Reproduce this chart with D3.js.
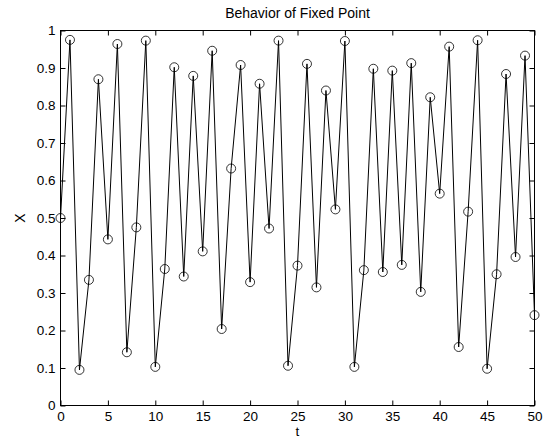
<!DOCTYPE html>
<meta charset="utf-8">
<html>
<head>
<script src="https://cdn.jsdelivr.net/npm/d3@7"></script>
<style>
body { margin: 0; background: white; }
text { font-family: "Liberation Sans", Arial, sans-serif; fill: black; }
</style>
</head>
<body>
<script>

// t = 0..50, x values
var tValues = d3.range(0, 51);
var xValues = [
  0.500, 0.975, 0.095, 0.335, 0.870, 0.443, 0.964, 0.142, 0.475, 0.973,
  0.103, 0.364, 0.902, 0.344, 0.879, 0.411, 0.946, 0.204, 0.632, 0.908,
  0.329, 0.858, 0.472, 0.973, 0.106, 0.373, 0.911, 0.315, 0.840, 0.523,
  0.972, 0.103, 0.361, 0.898, 0.356, 0.893, 0.375, 0.913, 0.303, 0.822,
  0.565, 0.957, 0.156, 0.517, 0.974, 0.098, 0.350, 0.884, 0.396, 0.933,
  0.241
];
var xTicks = [0, 5, 10, 15, 20, 25, 30, 35, 40, 45, 50];
var yTicks = [0, 0.1, 0.2, 0.3, 0.4, 0.5, 0.6, 0.7, 0.8, 0.9, 1];

var width = 546, height = 443;
// plot box edges (don't name these "top" -- clashes with window.top)
var pLeft = 60.5, pRight = 534.5, pTop = 30.5, pBottom = 405.5;

var svg = d3.select("body").append("svg")
  .attr("width", width)
  .attr("height", height);

var x = d3.scaleLinear().domain([0, 50]).range([pLeft, pRight]);
var y = d3.scaleLinear().domain([0, 1]).range([pBottom, pTop]);

// axes, ticks pointing inward on all four sides
function styleAxis(g) {
  g.select(".domain").remove();
  g.selectAll("line").attr("stroke", "black");
  g.selectAll("text").style("font-size", "13.5px");
}

svg.append("g")
  .attr("transform", "translate(0," + pBottom + ")")
  .call(d3.axisBottom(x).tickValues(xTicks).tickSizeInner(-5).tickSizeOuter(0).tickPadding(5.5).tickFormat(d3.format("d")))
  .call(styleAxis);

svg.append("g")
  .attr("transform", "translate(0," + pTop + ")")
  .call(d3.axisTop(x).tickValues(xTicks).tickSizeInner(-5).tickSizeOuter(0).tickFormat(""))
  .call(styleAxis);

svg.append("g")
  .attr("transform", "translate(" + pLeft + ",0)")
  .call(d3.axisLeft(y).tickValues(yTicks).tickSizeInner(-5).tickSizeOuter(0).tickPadding(5).tickFormat(function(d){ return d3.format("~g")(d); }))
  .call(styleAxis);

svg.append("g")
  .attr("transform", "translate(" + pRight + ",0)")
  .call(d3.axisRight(y).tickValues(yTicks).tickSizeInner(-5).tickSizeOuter(0).tickFormat(""))
  .call(styleAxis);

// box
svg.append("rect")
  .attr("x", pLeft).attr("y", pTop)
  .attr("width", pRight - pLeft).attr("height", pBottom - pTop)
  .attr("fill", "none").attr("stroke", "black").attr("stroke-width", 1);

// series
var pts = tValues.map(function(t, i){ return [t, xValues[i]]; });

svg.append("path")
  .datum(pts)
  .attr("fill", "none")
  .attr("stroke", "black")
  .attr("stroke-width", 1)
  .attr("d", d3.line().x(function(d){ return x(d[0]); }).y(function(d){ return y(d[1]); }));

svg.selectAll("circle.pt")
  .data(pts)
  .enter().append("circle")
  .attr("class", "pt")
  .attr("cx", function(d){ return x(d[0]); })
  .attr("cy", function(d){ return y(d[1]); })
  .attr("r", 4.5)
  .attr("fill", "none")
  .attr("stroke", "black")
  .attr("stroke-width", 0.8);

// labels
svg.append("text")
  .attr("x", (pLeft + pRight) / 2).attr("y", 18)
  .attr("text-anchor", "middle")
  .style("font-size", "14px")
  .text("Behavior of Fixed Point");

svg.append("text")
  .attr("x", (pLeft + pRight) / 2).attr("y", 436)
  .attr("text-anchor", "middle")
  .style("font-size", "13.5px")
  .text("t");

svg.append("text")
  .attr("transform", "translate(25," + ((pTop + pBottom) / 2) + ") rotate(-90)")
  .attr("text-anchor", "middle")
  .style("font-size", "14px")
  .text("X");

</script>
</body>
</html>
